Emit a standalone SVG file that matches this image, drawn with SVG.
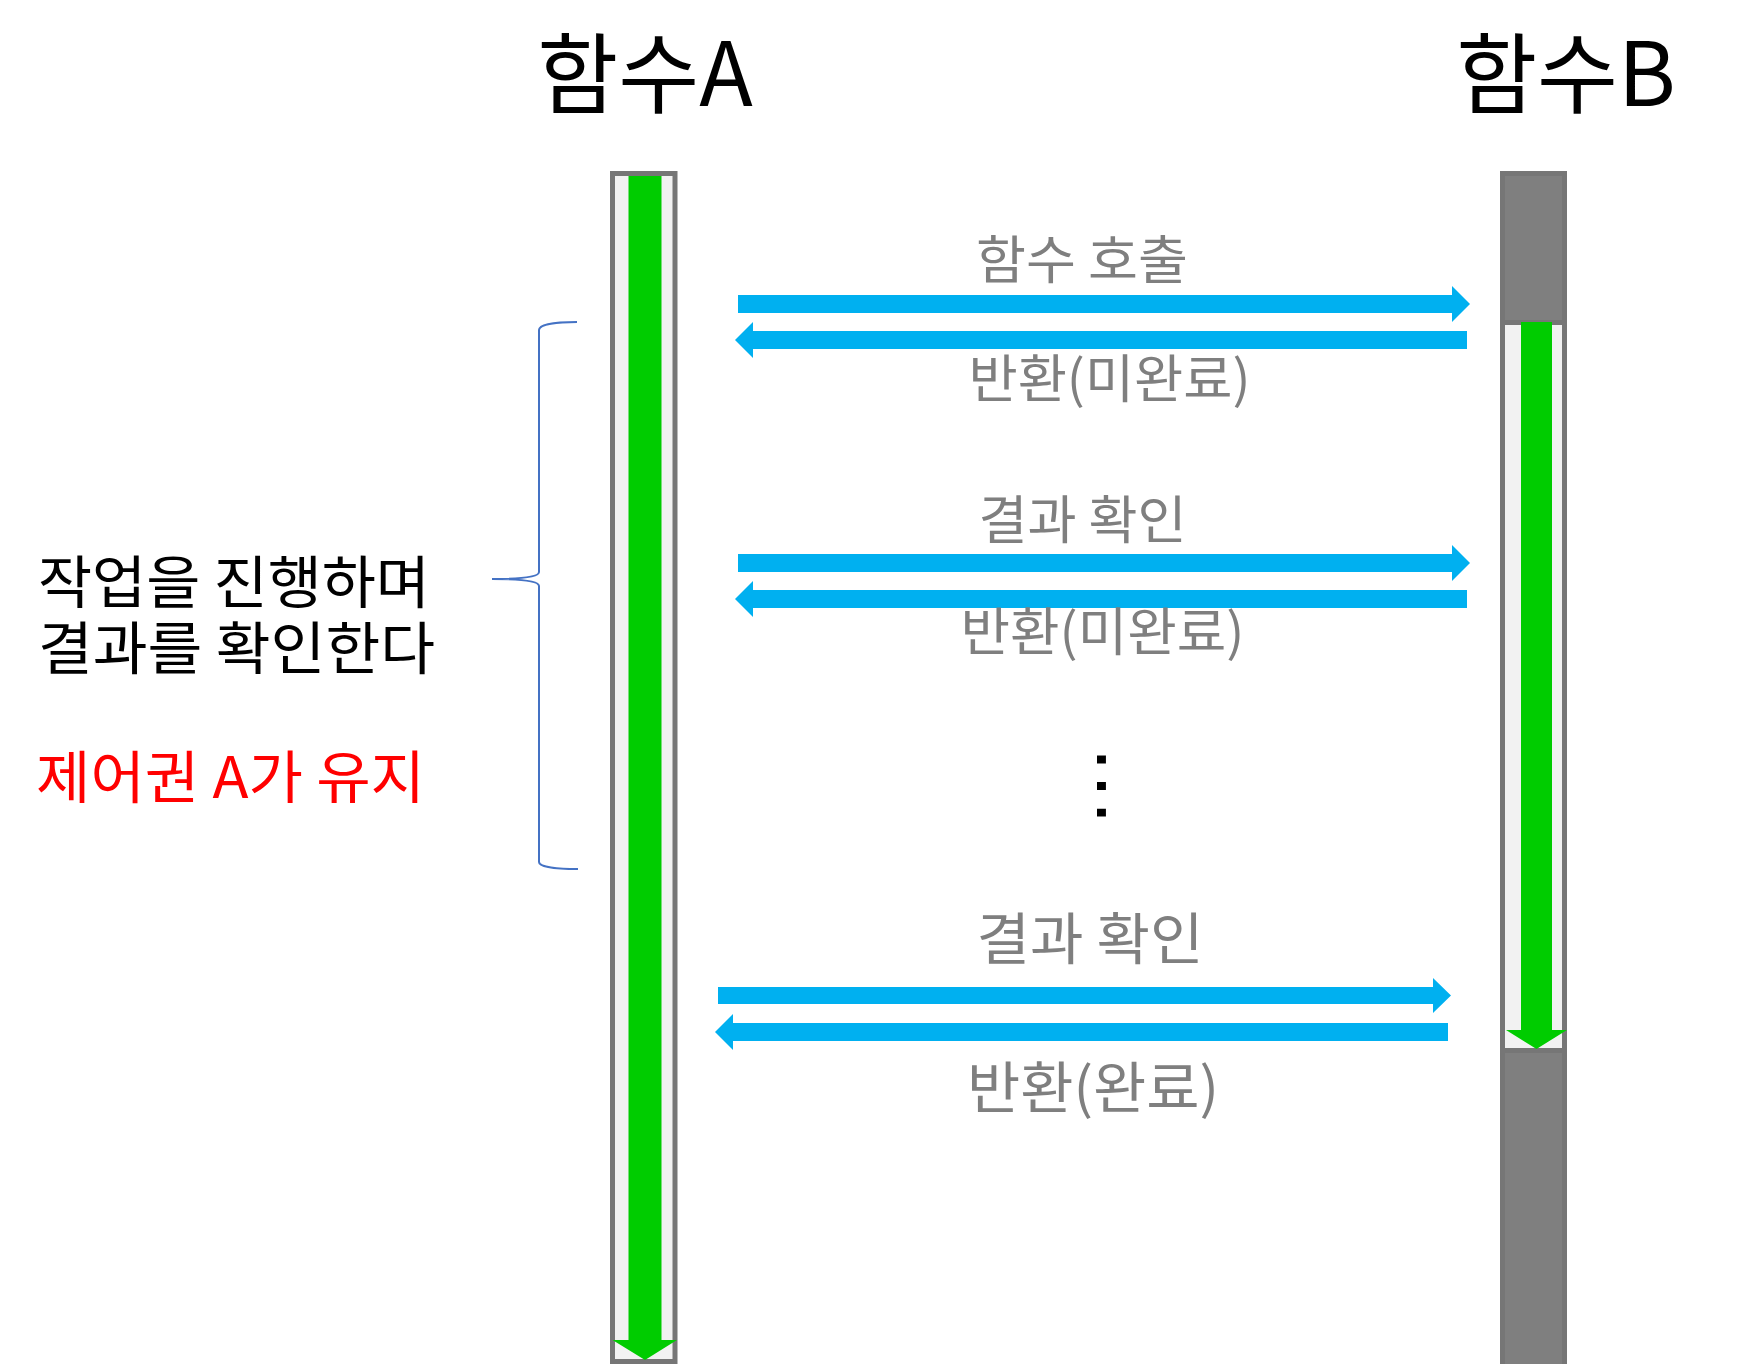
<svg xmlns="http://www.w3.org/2000/svg" width="1744" height="1364" viewBox="0 0 1744 1364">
<style>
.t{font-family:"Noto Sans CJK KR","Liberation Sans",sans-serif}
.title{font-size:88px;fill:#000}
.lbl{font-size:52px;fill:#7f7f7f}
.big{font-size:56px;fill:#7f7f7f}
.side{font-size:57px;fill:#000}
.red{fill:#ff0000}
.col{stroke:#767676;stroke-width:5}
.arr{fill:#00b0f0}
.grn{fill:#00cc00}
</style>
<rect width="1744" height="1364" fill="#fff"/>
<g id="title-a"><text class="t title" x="645" y="106" text-anchor="middle">함수A</text></g>
<g id="title-b"><text class="t title" x="1566" y="106" text-anchor="middle">함수B</text></g>
<g id="func-a">
<rect class="col" x="612.5" y="173.5" width="62.5" height="1188" fill="#f2f2f2"/>
<polygon class="grn" points="628.5,176 661.5,176 661.5,1340 677,1340 645,1360 612.5,1340 628.5,1340"/>
</g>
<g id="func-b">
<rect class="col" x="1502.5" y="173.5" width="62" height="1200" fill="#7f7f7f"/>
<rect class="col" x="1502.5" y="322.5" width="62" height="728" fill="#f2f2f2"/>
<polygon class="grn" points="1521,322 1552,322 1552,1030 1567,1030 1536.5,1049 1506,1030 1521,1030"/>
</g>
<g id="connectors">
<polygon class="arr" points="738,295 1452,295 1452,286 1470,304 1452,322 1452,313 738,313"/>
<polygon class="arr" points="1467,331 753,331 753,322 735,340 753,358 753,349 1467,349"/>
<polygon class="arr" points="738,554 1452,554 1452,545 1470,563 1452,581 1452,572 738,572"/>
<polygon class="arr" points="1467,590 753,590 753,581 735,599 753,617 753,608 1467,608"/>
<polygon class="arr" points="718,987 1433,987 1433,978 1451,995.5 1433,1013 1433,1004 718,1004"/>
<polygon class="arr" points="1448,1023 733,1023 733,1014 715,1032 733,1050 733,1041 1448,1041"/>
<path d="M577,322 C558,322 539,324 539,330 L539,572 C539,577 520,579 492,579 C520,579 539,581 539,586 L539,862 C539,867 558,869 578,869" fill="none" stroke="#4472c4" stroke-width="2"/>
</g>
<g id="label-call"><text class="t lbl" x="1082" y="279" text-anchor="middle" textLength="212" lengthAdjust="spacingAndGlyphs">함수 호출</text></g>
<g id="label-ret1"><text class="t lbl" x="1109.5" y="398" text-anchor="middle" textLength="282" lengthAdjust="spacingAndGlyphs">반환(미완료)</text></g>
<g id="label-check1"><text class="t lbl" x="1082.5" y="539" text-anchor="middle" textLength="208" lengthAdjust="spacingAndGlyphs">결과 확인</text></g>
<g id="label-ret2"><text class="t lbl" x="1102.5" y="651" text-anchor="middle" textLength="284" lengthAdjust="spacingAndGlyphs">반환(미완료)</text></g>
<g id="dots"><text x="1097" y="786" font-size="84" text-anchor="middle" transform="rotate(90 1097 786)" style="font-family:'Liberation Sans',sans-serif">…</text></g>
<g id="label-check2"><text class="t big" x="1090" y="959" text-anchor="middle" textLength="227" lengthAdjust="spacingAndGlyphs">결과 확인</text></g>
<g id="label-ret3"><text class="t big" x="1093" y="1108" text-anchor="middle" textLength="252" lengthAdjust="spacingAndGlyphs">반환(완료)</text></g>
<g id="note">
<text class="t side" x="38" y="603" textLength="392" lengthAdjust="spacingAndGlyphs">작업을 진행하며</text>
<text class="t side" x="38" y="669" textLength="397" lengthAdjust="spacingAndGlyphs">결과를 확인한다</text>
<text class="t side red" x="36" y="798" textLength="389" lengthAdjust="spacingAndGlyphs">제어권 A가 유지</text>
</g>
</svg>
